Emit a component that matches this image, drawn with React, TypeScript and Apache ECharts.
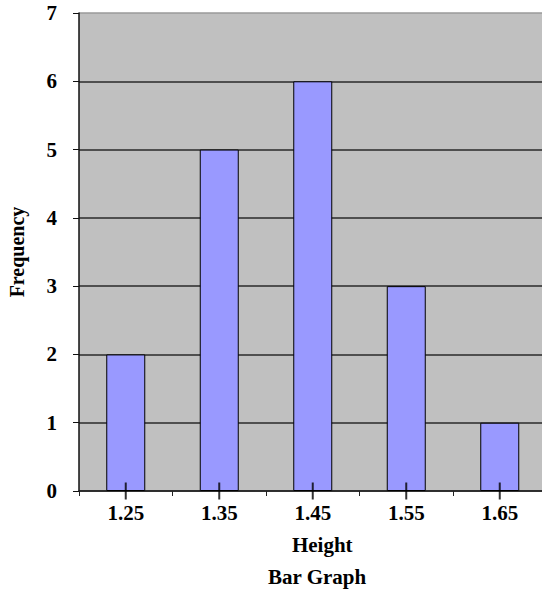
import React, { useEffect, useRef } from "react";
import * as echarts from "echarts";

const categories = ["1.25", "1.35", "1.45", "1.55", "1.65"];
const frequencies = [2, 5, 6, 3, 1];
const yTicks = [0, 1, 2, 3, 4, 5, 6, 7];

const FONT = '"Liberation Serif", "Times New Roman", serif';

export default function App() {
  const ref = useRef<HTMLDivElement>(null);
  useEffect(() => {
    if (!ref.current) return;
    const chart = echarts.init(ref.current, null, { renderer: "svg" });
    const gridColors = yTicks.map((t) => (t === yTicks[yTicks.length - 1] ? "#9a9a9a" : "#2a2a2a"));
    chart.setOption({
      animation: false,
      title: {
        text: "Bar Graph",
        left: 268,
        top: 566,
        padding: 0,
        textStyle: { fontFamily: FONT, fontWeight: "bold", fontSize: 21, color: "#000" },
      },
      grid: {
        left: 79,
        top: 13,
        width: 467.5,
        height: 478,
        show: true,
        backgroundColor: "#C0C0C0",
        borderWidth: 0,
        outerBoundsMode: "none",
        containLabel: false,
      },
      xAxis: {
        type: "category",
        data: categories,
        name: "Height",
        nameLocation: "middle",
        nameGap: 43,
        nameTextStyle: {
          fontFamily: FONT,
          fontWeight: "bold",
          fontSize: 21,
          color: "#000",
          padding: [0, 0, 0, 19],
        },
        axisLine: { show: true, lineStyle: { color: "#222", width: 1.5 } },
        axisTick: { show: true, alignWithLabel: false, length: 5, lineStyle: { color: "#222", width: 1 } },
        axisLabel: { margin: 11, fontFamily: FONT, fontWeight: "bold", fontSize: 21, color: "#000" },
      },
      yAxis: {
        type: "value",
        min: 0,
        max: 7,
        interval: 1,
        name: "Frequency",
        nameLocation: "middle",
        nameRotate: 90,
        nameGap: 52,
        nameTextStyle: { fontFamily: FONT, fontWeight: "bold", fontSize: 20, color: "#000" },
        axisLine: { show: true, lineStyle: { color: "#111", width: 1.5 } },
        axisTick: { show: true, length: 6, lineStyle: { color: "#111", width: 1 } },
        axisLabel: { margin: 22, fontFamily: FONT, fontWeight: "bold", fontSize: 21, color: "#000" },
        splitLine: { show: true, lineStyle: { color: gridColors, width: 1.5 } },
      },
      series: [
        {
          type: "bar",
          data: frequencies,
          barWidth: 39,
          itemStyle: { color: "#9999FF", borderColor: "#000", borderWidth: 1 },
          silent: true,
        },
        {
          type: "scatter",
          data: categories.map((c) => [c, 0]),
          symbol: "rect",
          symbolSize: [2, 17],
          itemStyle: { color: "#000" },
          clip: false,
          z: 5,
          silent: true,
        },
      ],
    });
    return () => chart.dispose();
  }, []);
  return (
    <div
      ref={ref}
      style={{ position: "fixed", left: 0, top: 0, width: 542, height: 589, background: "#fff" }}
    />
  );
}
